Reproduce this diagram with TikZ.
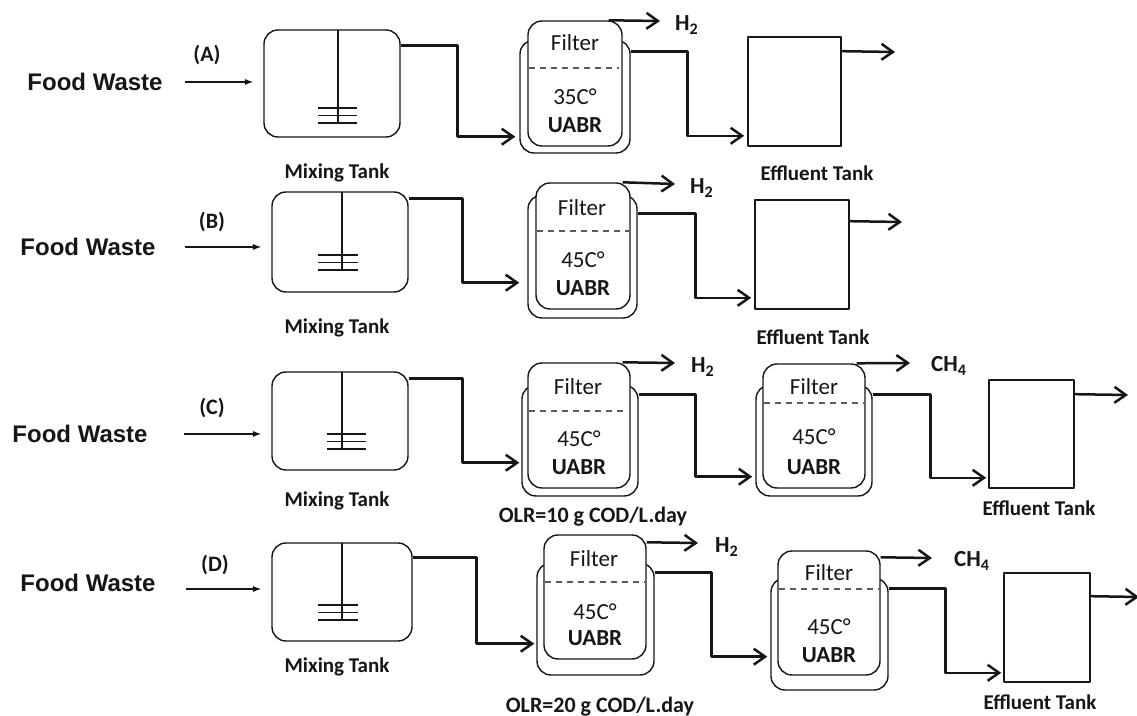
\documentclass[tikz,border=0pt]{standalone}
\usepackage{fontspec}
\setmainfont{Carlito}
\newfontfamily\arialfont{Liberation Sans}
\usetikzlibrary{arrows.meta}
\definecolor{ink}{HTML}{161616}
\definecolor{sieve}{HTML}{5A5A5A}
% shaft and three blades: x, top, bottom, left, right
\newcommand{\impeller}[5]{%
  \draw[shaft] (#1,#2) -- (#1,#3);
  \foreach \dy in {0,7.5,15} \draw[shaft] (#4,{#3-\dy}) -- (#5,{#3-\dy});}

\begin{document}
\begin{tikzpicture}[
  x=0.5pt,y=-0.5pt,
  color=ink,
  line join=round,
  tank/.style={draw=ink,rounded corners=7pt,line width=0.7pt,inner sep=0pt},
  jacket/.style={draw=ink,fill=white,rounded corners=7pt,line width=0.7pt,inner sep=0pt},
  reactor/.style={draw=ink,fill=white,rounded corners=7pt,line width=0.7pt,inner sep=0pt},
  effluent/.style={draw=ink,line width=0.8pt,inner sep=0pt},
  shaft/.style={line width=0.55pt},
  sieve/.style={draw=sieve,line width=0.6pt,dash pattern=on 3pt off 2.5pt},
  waste/.style={font=\arialfont\bfseries\fontsize{12}{14}\selectfont},
  tag/.style={font=\bfseries\fontsize{11}{13}\selectfont},
  caption/.style={font=\bfseries\fontsize{10.5}{12}\selectfont},
  inside/.style={font=\fontsize{11.5}{13}\selectfont},
  insidebold/.style={font=\bfseries\fontsize{11.5}{13}\selectfont},
  gas/.style={font=\bfseries\fontsize{11.5}{13}\selectfont},
  feed/.style={-{Latex[length=1.5mm,width=1.1mm]},line width=0.6pt},
  pipe/.style={-{Straight Barb[length=2mm,width=2.8mm]},line width=1.25pt}
]
\path[use as bounding box,fill=white] (0,0) rectangle (1137,716);

% (A)
\node[waste] (wasteA) at (95,82) {Food Waste};
\node[tag] (tagA) at (207,55) {(A)};
\node[tank,minimum width=68pt,minimum height=53.5pt] (mixA) at (332,83.5) {};
\impeller{338}{30}{123}{318}{357}
\node[caption] (mixcapA) at (337,173) {Mixing Tank};
\node[jacket,minimum width=55pt,minimum height=56.5pt] (jacA) at (575,96.5) {};
\node[reactor,minimum width=47pt,minimum height=62.5pt] (uabrA) at (575,83.5) {};
\node[inside] (filA) at (575,43) {Filter};
\draw[sieve] (529,68) -- (619,68);
\node[inside] (tempA) at (575,97) {35C°};
\node[insidebold] (nameA) at (575,125) {UABR};
\coordinate (gasA) at (660,21);
\node[gas] (hA) at (687,25) {H\textsubscript{2}};
\node[effluent,minimum width=46.5pt,minimum height=54.5pt] (effA) at (794.5,91.5) {};
\node[caption] (effcapA) at (817,173) {Effluent Tank};
\coordinate (outA) at (895,52);
\draw[feed] ([xshift=7.5pt]wasteA.east) -- ([xshift=-5pt]mixA.west |- wasteA.east);
\draw[pipe] ([yshift=-8pt]mixA.north east) -- ++(28.5pt,0) |- ([xshift=-2pt,yshift=8.5pt]jacA.south west);
\draw[pipe] ([xshift=-7pt]uabrA.north east) -- (gasA);
\draw[pipe] ([yshift=-6pt]jacA.north east) -- ++(28.5pt,0) |- ([xshift=-1.5pt,yshift=5.5pt]effA.south west);
\draw[pipe] ([yshift=-7.5pt]effA.north east) -- (outA);

% (B)
\node[waste] (wasteB) at (88,247) {Food Waste};
\node[tag] (tagB) at (212,222) {(B)};
\node[tank,minimum width=68pt,minimum height=50pt] (mixB) at (340,242) {};
\impeller{342}{192}{270}{318}{358}
\node[caption] (mixcapB) at (337,328) {Mixing Tank};
\node[jacket,minimum width=54.5pt,minimum height=61.5pt] (jacB) at (582.5,256.5) {};
\node[reactor,minimum width=47pt,minimum height=63pt] (uabrB) at (583,246) {};
\node[inside] (filB) at (582,208) {Filter};
\draw[sieve] (537,231) -- (629,231);
\node[inside] (tempB) at (583,260) {45C°};
\node[insidebold] (nameB) at (583,288) {UABR};
\coordinate (gasB) at (675,184);
\node[gas] (hB) at (702,188) {H\textsubscript{2}};
\node[effluent,minimum width=47pt,minimum height=54.5pt] (effB) at (802,254.5) {};
\node[caption] (effcapB) at (813,337) {Effluent Tank};
\coordinate (outB) at (902,222);
\draw[feed] ([xshift=11pt]wasteB.east) -- ([xshift=-5pt]mixB.west |- wasteB.east);
\draw[pipe] ([yshift=-3.5pt]mixB.north east) -- ++(27pt,0) |- ([xshift=-4pt,yshift=18pt]jacB.south west);
\draw[pipe] ([xshift=-4pt]uabrB.north east) -- (gasB);
\draw[pipe] ([yshift=-9.5pt]jacB.north east) -- ++(29pt,0) |- ([xshift=-1.5pt,yshift=6pt]effB.south west);
\draw[pipe] ([yshift=-11pt]effB.north east) -- (outB);

% (C)
\node[waste] (wasteC) at (80,434) {Food Waste};
\node[tag] (tagC) at (212,408) {(C)};
\node[tank,minimum width=68pt,minimum height=49pt] (mixC) at (340,421) {};
\impeller{342}{372}{449}{327}{366}
\node[caption] (mixcapC) at (337,501) {Mixing Tank};
\node[jacket,minimum width=58pt,minimum height=55.5pt] (jacC1) at (580,440.5) {};
\node[reactor,minimum width=51pt,minimum height=62.5pt] (uabrC1) at (579,425.5) {};
\node[inside] (filC1) at (578,387) {Filter};
\draw[sieve] (529,411) -- (627,411);
\node[inside] (tempC1) at (579,439) {45C°};
\node[insidebold] (nameC1) at (579,467) {UABR};
\coordinate (gasC1) at (675,363);
\node[gas] (hC) at (703,367) {H\textsubscript{2}};
\node[caption,font=\bfseries\fontsize{11}{13}\selectfont] (olrC) at (593,517) {OLR=10 g COD/L.day};
\node[jacket,minimum width=58pt,minimum height=55.5pt] (jacC2) at (814,440.5) {};
\node[reactor,minimum width=51pt,minimum height=62pt] (uabrC2) at (814,426) {};
\node[inside] (filC2) at (814,387) {Filter};
\draw[sieve] (764,403) -- (864,403);
\node[inside] (tempC2) at (814,437) {45C°};
\node[insidebold] (nameC2) at (814,467) {UABR};
\coordinate (gasC2) at (910,363);
\node[gas] (mC) at (949,366) {CH\textsubscript{4}};
\node[effluent,minimum width=42.5pt,minimum height=54pt] (effC) at (1031.5,434) {};
\node[caption] (effcapC) at (1039,508) {Effluent Tank};
\coordinate (outC) at (1128,395);
\draw[feed] ([xshift=14.5pt]wasteC.east) -- ([xshift=-5pt]mixC.west |- wasteC.east);
\draw[pipe] ([yshift=-3.5pt]mixC.north east) -- ++(27pt,0) |- ([xshift=-1pt,yshift=17pt]jacC1.south west);
\draw[pipe] ([xshift=-4pt]uabrC1.north east) -- (gasC1);
\draw[pipe] ([yshift=-5pt]jacC1.north east) -- ++(28.5pt,0) |- ([xshift=-1.5pt,yshift=10pt]jacC2.south west);
\draw[pipe] ([xshift=-4.5pt]uabrC2.north east) -- (gasC2);
\draw[pipe] ([yshift=-5pt]jacC2.north east) -- ++(29pt,0) |- ([xshift=-1pt,yshift=5.5pt]effC.south west);
\draw[pipe] ([yshift=-7.5pt]effC.north east) -- (outC);

% (D)
\node[waste] (wasteD) at (88,583) {Food Waste};
\node[tag] (tagD) at (215,565) {(D)};
\node[tank,minimum width=70pt,minimum height=49pt] (mixD) at (342,592) {};
\impeller{342}{543}{620}{318}{358}
\node[caption] (mixcapD) at (337,667) {Mixing Tank};
\node[jacket,minimum width=58.5pt,minimum height=56pt] (jacD1) at (595.5,619) {};
\node[reactor,minimum width=51pt,minimum height=62pt] (uabrD1) at (595,597) {};
\node[inside] (filD1) at (594,559) {Filter};
\draw[sieve] (545,582) -- (645,582);
\node[inside] (tempD1) at (595,612) {45C°};
\node[insidebold] (nameD1) at (595,638) {UABR};
\coordinate (gasD1) at (698,543);
\node[gas] (hD) at (727,547) {H\textsubscript{2}};
\node[caption,font=\bfseries\fontsize{11}{13}\selectfont] (olrD) at (600,707) {OLR=20 g COD/L.day};
\node[jacket,minimum width=58.5pt,minimum height=56pt] (jacD2) at (829.5,634) {};
\node[reactor,minimum width=51pt,minimum height=62pt] (uabrD2) at (829,613) {};
\node[inside] (filD2) at (829,573) {Filter};
\draw[sieve] (779,589) -- (879,589);
\node[inside] (tempD2) at (829,627) {45C°};
\node[insidebold] (nameD2) at (829,655) {UABR};
\coordinate (gasD2) at (932,558);
\node[gas] (mD) at (972,561) {CH\textsubscript{4}};
\node[effluent,minimum width=43pt,minimum height=54.5pt] (effD) at (1047,627.5) {};
\node[caption] (effcapD) at (1040,702) {Effluent Tank};
\coordinate (outD) at (1139,597);
\draw[feed] ([xshift=11.5pt,yshift=-3pt]wasteD.east) -- ([xshift=-5pt,yshift=-3pt]mixD.west |- wasteD.east);
\draw[pipe] ([yshift=-7.5pt]mixD.north east) -- ++(32pt,0) |- ([xshift=-1pt,yshift=16pt]jacD1.south west);
\draw[pipe] ([yshift=-4pt]uabrD1.north east) -- (gasD1);
\draw[pipe] ([yshift=-5pt]jacD1.north east) -- ++(28.5pt,0) |- ([xshift=-1.5pt,yshift=17pt]jacD2.south west);
\draw[pipe] ([yshift=-3.5pt]uabrD2.north east) -- (gasD2);
\draw[pipe] ([yshift=-5.5pt]jacD2.north east) -- ++(28.5pt,0) |- ([xshift=-1pt,yshift=5pt]effD.south west);
\draw[pipe] ([yshift=-12pt]effD.north east) -- (outD);
\end{tikzpicture}
\end{document}
